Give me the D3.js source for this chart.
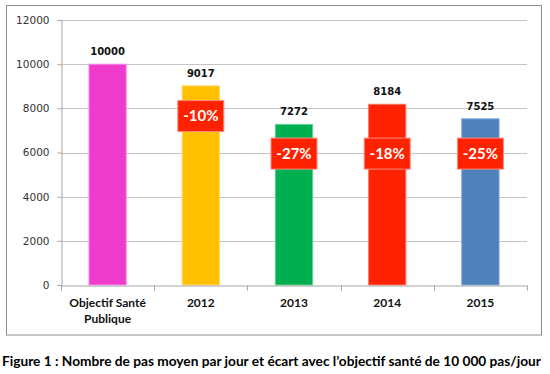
<!DOCTYPE html>
<html>
<head>
<meta charset="utf-8">
<script src="https://cdn.jsdelivr.net/npm/d3@7"></script>
<style>
  body { margin: 0; background: #fff; }
</style>
</head>
<body>
<div id="chart"></div>
<script>
// Data
const categories = ["Objectif Santé Publique", "2012", "2013", "2014", "2015"];
const steps = [10000, 9017, 7272, 8184, 7525];
const gapLabels = ["", "-10%", "-27%", "-18%", "-25%"];
const barColors = ["#ee3bcc", "#ffc000", "#00b050", "#ff2200", "#4f81bd"];
const barEdges = ["#ff8ef0", "#ffd966", "#5fd08f", "#ff7a66", "#7fa6d6"];
const yTicks = [0, 2000, 4000, 6000, 8000, 10000, 12000];
const caption = "Figure 1 : Nombre de pas moyen par jour et écart avec l’objectif santé de 10 000 pas/jour";

const width = 550;
const height = 374;
const plot = { left: 61, right: 527, top: 20, bottom: 285 };

const svg = d3.select("#chart").append("svg")
    .attr("width", width)
    .attr("height", height);

// chart frame
svg.append("rect")
    .attr("x", 6.5).attr("y", 5.5)
    .attr("width", 535).attr("height", 329.5)
    .attr("fill", "#fff")
    .attr("stroke", "#8c8c8c");

const x = d3.scaleBand()
    .domain(categories)
    .range([plot.left, plot.right])
    .paddingInner(0).paddingOuter(0);

const y = d3.scaleLinear()
    .domain([0, 12000])
    .range([plot.bottom, plot.top]);

// gridlines
svg.append("g")
    .selectAll("line")
    .data(yTicks.filter(d => d > 0))
    .enter().append("line")
    .attr("x1", plot.left).attr("x2", plot.right)
    .attr("y1", d => Math.round(y(d)) + 0.5)
    .attr("y2", d => Math.round(y(d)) + 0.5)
    .attr("stroke", "#c4c4c4");

// y axis
const yAxis = svg.append("g")
    .attr("transform", `translate(${plot.left + 0.5},0)`)
    .call(d3.axisLeft(y).tickValues(yTicks).tickSize(4).tickPadding(8).tickFormat(d3.format("d")));
yAxis.select(".domain").attr("stroke", "#a6a6a6");
yAxis.selectAll(".tick line").attr("stroke", "#a6a6a6");
yAxis.selectAll("text")
    .attr("font-family", "DejaVu Sans")
    .attr("font-size", "10.5px")
    .attr("fill", "#333");

// bars
const bw = x.bandwidth() * 0.4;
svg.append("g")
    .selectAll("rect")
    .data(steps)
    .enter().append("rect")
    .attr("x", (d, i) => x(categories[i]) + (x.bandwidth() - bw) / 2)
    .attr("y", d => y(d))
    .attr("width", bw)
    .attr("height", d => y(0) - y(d))
    .attr("fill", (d, i) => barColors[i])
    .attr("stroke", (d, i) => barEdges[i])
    .attr("stroke-width", 1);

// x axis
const xAxis = svg.append("g")
    .attr("transform", `translate(0,${plot.bottom + 0.5})`)
    .call(d3.axisBottom(x).tickSize(0).tickFormat(""));
xAxis.select(".domain").attr("stroke", "#a6a6a6");
xAxis.selectAll(".tick").remove();
xAxis.selectAll(".sep")
    .data(d3.range(categories.length + 1))
    .enter().append("line")
    .attr("x1", i => Math.round(plot.left + i * x.bandwidth()) + 0.5)
    .attr("x2", i => Math.round(plot.left + i * x.bandwidth()) + 0.5)
    .attr("y1", 0).attr("y2", 5)
    .attr("stroke", "#a6a6a6");

// category labels (wrap the long one on two lines)
const catLabels = svg.append("g")
    .selectAll("text")
    .data(categories)
    .enter().append("text")
    .attr("x", d => x(d) + x.bandwidth() / 2)
    .attr("y", 307)
    .attr("text-anchor", "middle")
    .attr("font-family", "Lato")
    .attr("font-weight", "bold")
    .attr("font-size", "12px")
    .attr("fill", "#111");
catLabels.each(function(d) {
    const parts = d === "Objectif Santé Publique" ? ["Objectif Santé", "Publique"] : [d];
    d3.select(this).selectAll("tspan")
        .data(parts)
        .enter().append("tspan")
        .attr("x", x(d) + x.bandwidth() / 2)
        .attr("dy", (p, j) => j ? 16 : 0)
        .text(p => p);
});

// value labels
svg.append("g")
    .selectAll("text")
    .data(steps)
    .enter().append("text")
    .attr("x", (d, i) => x(categories[i]) + x.bandwidth() / 2)
    .attr("y", d => y(d) - 9)
    .attr("text-anchor", "middle")
    .attr("font-family", "DejaVu Sans")
    .attr("font-weight", "bold")
    .attr("font-size", "10px")
    .attr("fill", "#111")
    .text(d => d);

// gap badges, placed by hand in the original
const badgeAt = [0, 7650, 5950, 5950, 5950];
const badges = svg.append("g")
    .selectAll("g")
    .data(gapLabels.map((g, i) => ({ g, i })).filter(d => d.g))
    .enter().append("g")
    .attr("transform", d => `translate(${x(categories[d.i]) + x.bandwidth() / 2},${y(badgeAt[d.i])})`);

badges.append("rect")
    .attr("x", -23).attr("y", -15.5)
    .attr("width", 46).attr("height", 31)
    .attr("fill", "#ff2200")
    .attr("stroke", "#ff8a80");

badges.append("text")
    .attr("y", 5)
    .attr("text-anchor", "middle")
    .attr("font-family", "Lato")
    .attr("font-weight", "bold")
    .attr("font-size", "15px")
    .attr("fill", "#fff")
    .text(d => d.g);

// caption
svg.append("text")
    .attr("x", 2)
    .attr("y", 366)
    .attr("font-family", "Lato")
    .attr("font-weight", "bold")
    .attr("font-size", "13.7px")
    .attr("fill", "#000")
    .text(caption);
</script>
</body>
</html>
